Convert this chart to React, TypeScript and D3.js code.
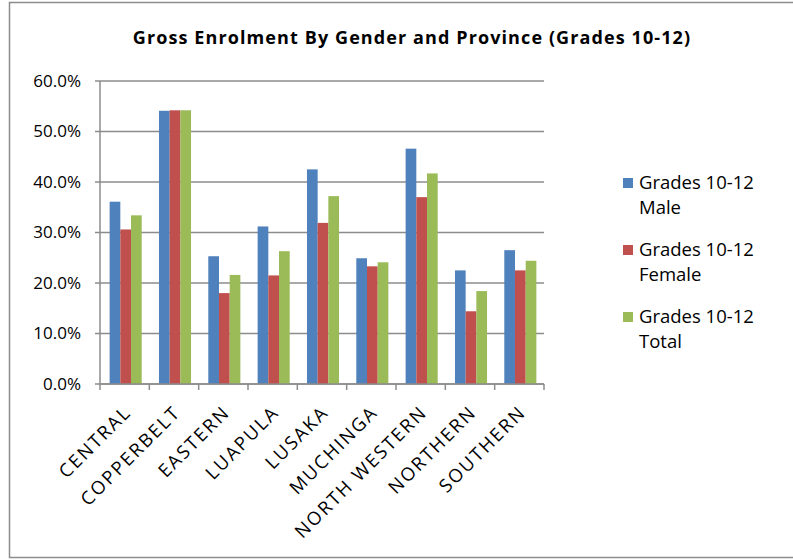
import { useEffect, useRef } from 'react';
import * as d3 from 'd3';

const provinces = [
  'CENTRAL',
  'COPPERBELT',
  'EASTERN',
  'LUAPULA',
  'LUSAKA',
  'MUCHINGA',
  'NORTH WESTERN',
  'NORTHERN',
  'SOUTHERN',
];

const male = [0.361, 0.541, 0.253, 0.312, 0.425, 0.249, 0.466, 0.225, 0.265];
const female = [0.306, 0.542, 0.18, 0.215, 0.319, 0.233, 0.37, 0.144, 0.225];
const total = [0.334, 0.542, 0.216, 0.263, 0.372, 0.241, 0.417, 0.184, 0.244];

const seriesNames = ['Grades 10-12 Male', 'Grades 10-12 Female', 'Grades 10-12 Total'];
const seriesColors = ['#4F81BD', '#C0504D', '#9BBB59'];
const yTicks = [0, 0.1, 0.2, 0.3, 0.4, 0.5, 0.6];

const W = 793;
const H = 560;
const font = "'Open Sans', 'Lato', sans-serif";

export default function App() {
  const svgRef = useRef<SVGSVGElement>(null);

  useEffect(() => {
    if (!svgRef.current) return;
    const svg = d3.select(svgRef.current);
    svg.selectAll('*').remove();

    const margin = { top: 81, left: 100, right: 249, bottom: 176 };
    const innerW = W - margin.left - margin.right;
    const innerH = H - margin.top - margin.bottom;

    // outer frame
    svg
      .append('rect')
      .attr('x', 9.5)
      .attr('y', 2.5)
      .attr('width', W + 10)
      .attr('height', 555)
      .attr('fill', '#fff')
      .attr('stroke', '#8c8c8c')
      .attr('stroke-width', 1.5);

    svg
      .append('text')
      .attr('x', 412)
      .attr('y', 44)
      .attr('text-anchor', 'middle')
      .style('font-family', font)
      .style('font-weight', 'bold')
      .style('font-size', '18px')
      .style('letter-spacing', '1.1px')
      .text('Gross Enrolment By Gender and Province (Grades 10-12)');

    const g = svg.append('g').attr('transform', `translate(${margin.left},${margin.top})`);

    const x = d3.scaleBand().domain(provinces).range([0, innerW]);
    const y = d3.scaleLinear().domain([0, 0.6]).range([innerH, 0]);
    const xs = d3
      .scaleBand()
      .domain(['0', '1', '2'])
      .range([0, x.bandwidth() * 0.65]);
    const groupOffset = (x.bandwidth() - x.bandwidth() * 0.65) / 2 + 1;

    // gridlines
    g.selectAll('.grid')
      .data(yTicks)
      .enter()
      .append('line')
      .attr('x1', -5)
      .attr('x2', innerW)
      .attr('y1', (d) => y(d))
      .attr('y2', (d) => y(d))
      .attr('stroke', '#8c8c8c')
      .attr('stroke-width', 1.5);

    g.selectAll('.ylab')
      .data(yTicks)
      .enter()
      .append('text')
      .attr('x', -19)
      .attr('y', (d) => y(d))
      .attr('dy', '0.35em')
      .attr('text-anchor', 'end')
      .style('font-family', font)
      .style('font-size', '17px')
      .text((d) => d3.format('.1%')(d));

    const series = [male, female, total];
    series.forEach((vals, si) => {
      g.selectAll(`.bar${si}`)
        .data(vals)
        .enter()
        .append('rect')
        .attr('x', (_, i) => (x(provinces[i]) || 0) + groupOffset + (xs(String(si)) || 0))
        .attr('width', xs.bandwidth())
        .attr('y', (d) => y(d))
        .attr('height', (d) => innerH - y(d))
        .attr('fill', seriesColors[si]);
    });

    // axis lines
    g.append('line')
      .attr('x1', 0)
      .attr('x2', 0)
      .attr('y1', 0)
      .attr('y2', innerH)
      .attr('stroke', '#8c8c8c')
      .attr('stroke-width', 1.5);
    g.append('line')
      .attr('x1', 0)
      .attr('x2', innerW)
      .attr('y1', innerH)
      .attr('y2', innerH)
      .attr('stroke', '#8c8c8c')
      .attr('stroke-width', 1.5);

    const bounds = provinces.map((p) => x(p) || 0).concat([innerW]);
    g.selectAll('.xtick')
      .data(bounds)
      .enter()
      .append('line')
      .attr('x1', (d) => d)
      .attr('x2', (d) => d)
      .attr('y1', innerH)
      .attr('y2', innerH + 6)
      .attr('stroke', '#8c8c8c')
      .attr('stroke-width', 1.5);

    g.selectAll('.xlab')
      .data(provinces)
      .enter()
      .append('text')
      .attr(
        'transform',
        (d) => `translate(${(x(d) || 0) + x.bandwidth() / 2 + 3},${innerH + 25}) rotate(-45)`
      )
      .attr('text-anchor', 'end')
      .attr('dy', '0.35em')
      .style('font-family', font)
      .style('font-size', '18.5px')
      .style('letter-spacing', '2px')
      .text((d) => d);

    // legend
    const legend = svg.append('g').attr('transform', 'translate(623,178)');
    seriesNames.forEach((name, i) => {
      const row = legend.append('g').attr('transform', `translate(0,${i * 67})`);
      row.append('rect').attr('width', 10).attr('height', 10).attr('fill', seriesColors[i]);
      const words = name.split(' ');
      row
        .append('text')
        .attr('x', 16)
        .attr('y', 11)
        .style('font-family', font)
        .style('font-size', '18.5px')
        .text(words.slice(0, 2).join(' '));
      row
        .append('text')
        .attr('x', 16)
        .attr('y', 36)
        .style('font-family', font)
        .style('font-size', '18.5px')
        .text(words.slice(2).join(' '));
    });
  }, []);

  return (
    <svg
      ref={svgRef}
      width={W}
      height={H}
      style={{ position: 'absolute', left: 0, top: 0, background: '#fff' }}
    />
  );
}
